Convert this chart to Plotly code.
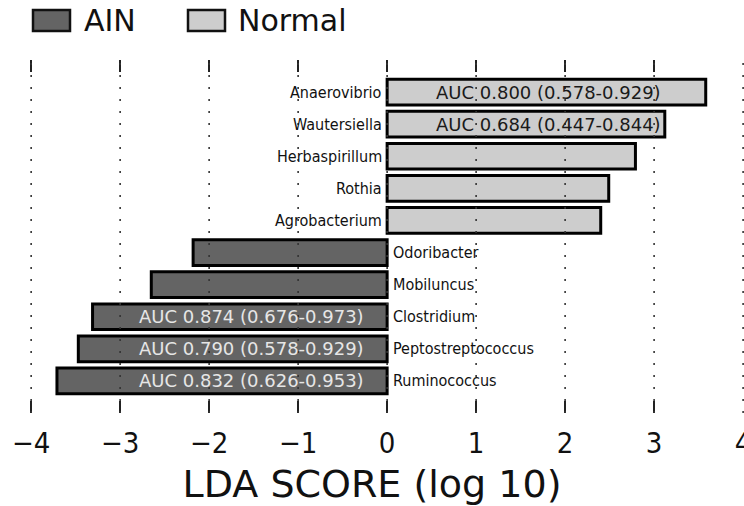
import plotly.graph_objects as go

# LEfSe result: genera and their LDA scores (log10), negative = enriched in AIN
genera = ["Anaerovibrio", "Wautersiella", "Herbaspirillum", "Rothia", "Agrobacterium",
          "Odoribacter", "Mobiluncus", "Clostridium", "Peptostreptococcus", "Ruminococcus"]
lda_scores = [3.58, 3.12, 2.79, 2.49, 2.40, -2.18, -2.65, -3.31, -3.47, -3.71]
groups = ["Normal", "Normal", "Normal", "Normal", "Normal",
          "AIN", "AIN", "AIN", "AIN", "AIN"]
auc_labels = ["AUC 0.800 (0.578-0.929)", "AUC 0.684 (0.447-0.844)", "", "", "",
              "", "", "AUC 0.874 (0.676-0.973)", "AUC 0.790 (0.578-0.929)",
              "AUC 0.832 (0.626-0.953)"]
tick_values = [-4, -3, -2, -1, 0, 1, 2, 3, 4]
tick_text = ["\u22124", "\u22123", "\u22122", "\u22121", "0", "1", "2", "3", "4"]

group_order = ["AIN", "Normal"]
group_fill = {"AIN": "#646464", "Normal": "#cdcdcd"}
auc_font_color = {"AIN": "#e6e6e6", "Normal": "#1a1a1a"}
auc_x = {"AIN": -1.52, "Normal": 1.81}

NARROW = "Liberation Sans Narrow, DejaVu Sans Condensed, Roboto Condensed, DejaVu Sans"

W, H = 744, 506
M_T, M_B = 60, 93


def px_x(p):
    return p / W


def px_y(p):
    return (H - M_B - p) / (H - M_T - M_B)


fig = go.Figure()
for g in group_order:
    ys = [n for n, gg in zip(genera, groups) if gg == g]
    xs = [v for v, gg in zip(lda_scores, groups) if gg == g]
    fig.add_trace(go.Bar(
        x=xs, y=ys, orientation="h", name=g, width=0.8,
        marker=dict(color=group_fill[g], line=dict(color="#000000", width=3)),
        showlegend=False,
    ))

annotations = []
for name, val, g, auc in zip(genera, lda_scores, groups, auc_labels):
    if val > 0:
        annotations.append(dict(x=0, y=name, xref="x", yref="y", text=name,
                                showarrow=False, xanchor="right", xshift=-3,
                                font=dict(family=NARROW, size=16, color="#111111")))
    else:
        annotations.append(dict(x=0, y=name, xref="x", yref="y", text=name,
                                showarrow=False, xanchor="left", xshift=4,
                                font=dict(family=NARROW, size=16, color="#111111")))
    if auc:
        annotations.append(dict(x=auc_x[g], y=name, xref="x", yref="y", text=auc,
                                showarrow=False, xanchor="center",
                                font=dict(family="DejaVu Sans", size=18,
                                          color=auc_font_color[g])))

# dotted grid lines drawn over the bars
shapes = []
for t in tick_values:
    shapes.append(dict(type="line", xref="x", yref="paper", x0=t, x1=t, y0=0, y1=1,
                       line=dict(color="#333333", width=1.6, dash="2px,10px"),
                       layer="above"))

# legend swatches
legend_items = [("AIN", 33, 70, 82), ("Normal", 188, 225, 236)]
for g, x0, x1, tx in legend_items:
    shapes.append(dict(type="rect", xref="paper", yref="paper",
                       x0=px_x(x0), x1=px_x(x1), y0=px_y(31), y1=px_y(10),
                       fillcolor=group_fill[g], line=dict(color="#111111", width=2.5)))
    annotations.append(dict(x=px_x(tx), y=px_y(20), xref="paper", yref="paper",
                            text=g, showarrow=False, xanchor="left", yanchor="middle",
                            font=dict(family="DejaVu Sans", size=30, color="#111111")))

fig.update_layout(
    width=W, height=H,
    margin=dict(l=0, r=0, t=M_T, b=M_B, pad=0, autoexpand=False),
    plot_bgcolor="white", paper_bgcolor="white",
    barmode="relative",
    showlegend=False,
    annotations=annotations,
    shapes=shapes,
    xaxis=dict(
        range=[-4.35, 4.01], tickvals=tick_values, ticktext=tick_text,
        showgrid=False, zeroline=False, showline=False, automargin=False,
        ticks="inside", ticklen=12, tickwidth=1.5, tickcolor="#222222",
        mirror="ticks", ticklabeloverflow="allow", ticklabelstandoff=10,
        tickfont=dict(family=NARROW, size=29, color="#111111"),
        title=dict(text="LDA SCORE (log 10)", standoff=16,
                   font=dict(family="DejaVu Sans", size=38, color="#111111")),
    ),
    yaxis=dict(
        categoryorder="array", categoryarray=genera[::-1], automargin=False,
        range=[-1, 10], showticklabels=False, showgrid=False,
        zeroline=False, showline=False, ticks="",
    ),
)

fig.write_html("out.html")
